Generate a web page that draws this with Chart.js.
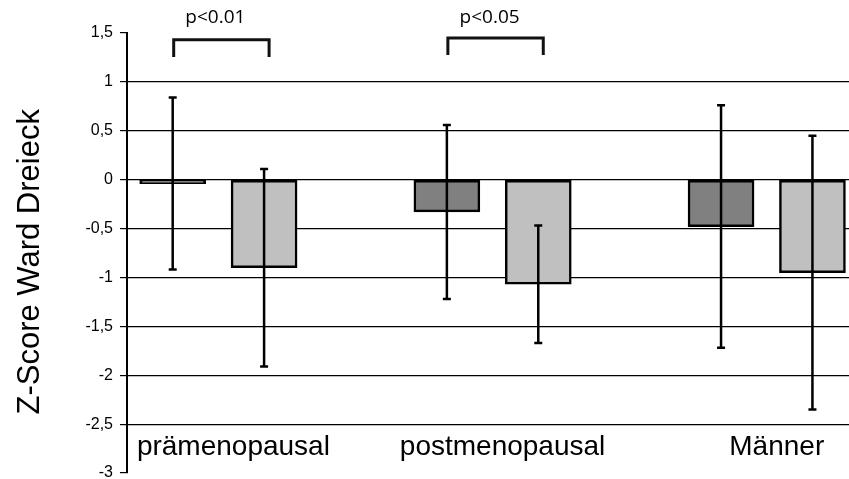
<!DOCTYPE html>
<html>
<head>
<meta charset="utf-8">
<script src="https://cdn.jsdelivr.net/npm/chart.js@4"></script>
<style>
  html, body { margin: 0; padding: 0; background: #fff; overflow: hidden; }
</style>
</head>
<body>
<canvas id="zChart" width="849" height="479"></canvas>
<script>
// groups and values
const groups = ['prämenopausal', 'postmenopausal', 'Männer'];
const darkMeans = [-0.04, -0.33, -0.48];
const darkSD = [0.88, 0.89, 1.24];
const lightMeans = [-0.90, -1.07, -0.95];
const lightSD = [1.01, 0.60, 1.40];
const yTicks = [1.5, 1, 0.5, 0, -0.5, -1, -1.5, -2, -2.5, -3];
const yTitle = 'Z-Score Ward Dreieck';
const sigGroups = [0, 1];
const sigLabels = ['p<0.01', 'p<0.05'];

// each group takes 3 slots on the x scale: dark bar, light bar, gap
const darkData = darkMeans.map((v, i) => ({ x: i * 3, y: v }));
const lightData = lightMeans.map((v, i) => ({ x: i * 3 + 1, y: v }));
const sds = [darkSD, lightSD];

const errorBars = {
    id: 'errorBars',
    afterDatasetsDraw(chart) {
        const ctx = chart.ctx;
        const ys = chart.scales.y;
        ctx.save();
        ctx.strokeStyle = '#000';
        ctx.lineWidth = 2.5;
        chart.data.datasets.forEach((ds, d) => {
            chart.getDatasetMeta(d).data.forEach((bar, i) => {
                const m = ds.data[i].y;
                const top = ys.getPixelForValue(m + sds[d][i]);
                const bot = ys.getPixelForValue(m - sds[d][i]);
                ctx.beginPath();
                ctx.moveTo(bar.x, top);
                ctx.lineTo(bar.x, bot);
                ctx.moveTo(bar.x - 4, top);
                ctx.lineTo(bar.x + 4, top);
                ctx.moveTo(bar.x - 4, bot);
                ctx.lineTo(bar.x + 4, bot);
                ctx.stroke();
            });
        });
        ctx.restore();
    }
};

const annotations = {
    id: 'annotations',
    afterDraw(chart) {
        const ctx = chart.ctx;
        const xs = chart.scales.x;
        const ys = chart.scales.y;
        ctx.save();
        // significance brackets
        ctx.strokeStyle = '#111';
        ctx.lineWidth = 3;
        ctx.fillStyle = '#000';
        ctx.font = '19px "Open Sans"';
        ctx.textAlign = 'center';
        ctx.textBaseline = 'middle';
        sigGroups.forEach((g, k) => {
            const x1 = xs.getPixelForValue(g * 3) + 1;
            const x2 = xs.getPixelForValue(g * 3 + 1) + 5;
            const yTop = ys.getPixelForValue(1.43 + k * 0.02);
            const yLeg = ys.getPixelForValue(1.255 + k * 0.02);
            ctx.beginPath();
            ctx.moveTo(x1, yLeg);
            ctx.lineTo(x1, yTop);
            ctx.lineTo(x2, yTop);
            ctx.lineTo(x2, yLeg);
            ctx.stroke();
            ctx.fillText(sigLabels[k], (x1 + x2) / 2 - 6, ys.getPixelForValue(1.655));
        });
        // group names inside the plot, near the bottom
        ctx.font = '28px "Liberation Sans", Arial, sans-serif';
        ctx.textBaseline = 'alphabetic';
        groups.forEach((name, i) => {
            const xc = (xs.getPixelForValue(i * 3) + xs.getPixelForValue(i * 3 + 1)) / 2;
            ctx.fillText(name, xc + (i === 0 ? 15 : 10), ys.getPixelForValue(-2.82));
        });
        // y axis title, a little below the middle like the original
        ctx.font = '31px "Liberation Sans", Arial, sans-serif';
        ctx.textBaseline = 'middle';
        ctx.translate(30, ys.getPixelForValue(-0.84));
        ctx.rotate(-Math.PI / 2);
        ctx.fillText(yTitle, 0, 0);
        ctx.restore();
    }
};

new Chart(document.getElementById('zChart'), {
    type: 'bar',
    data: {
        datasets: [
            {
                data: darkData,
                backgroundColor: '#808080',
                borderColor: '#000',
                borderWidth: 2.5,
                borderSkipped: false
            },
            {
                data: lightData,
                backgroundColor: '#c0c0c0',
                borderColor: '#000',
                borderWidth: 2.5,
                borderSkipped: false
            }
        ]
    },
    options: {
        responsive: false,
        devicePixelRatio: 1,
        animation: false,
        layout: { padding: { top: 33, bottom: 6, left: 0, right: 0 } },
        datasets: { bar: { grouped: false, barThickness: 66 } },
        plugins: { legend: { display: false }, tooltip: { enabled: false } },
        scales: {
            x: {
                type: 'linear',
                min: -0.5,
                max: 7.4,
                offset: false,
                display: false
            },
            y: {
                min: -3,
                max: 1.5,
                afterBuildTicks: (scale) => {
                    scale.ticks = yTicks.map(v => ({ value: v }));
                },
                afterFit: (scale) => {
                    scale.width = 127;
                    scale.paddingTop = 0;
                    scale.paddingBottom = 0;
                },
                ticks: {
                    color: '#000',
                    padding: 7,
                    font: { family: '"Liberation Sans", Arial, sans-serif', size: 16 },
                    callback: (v) => String(v).replace('.', ',')
                },
                grid: {
                    color: (c) => (c.tick && (c.tick.value === 1.5 || c.tick.value === -3)) ? 'rgba(0,0,0,0)' : '#000',
                    lineWidth: 1.2,
                    tickColor: '#000',
                    tickLength: 7
                },
                border: { color: '#000', width: 2 }
            }
        }
    },
    plugins: [errorBars, annotations]
});
</script>
</body>
</html>
